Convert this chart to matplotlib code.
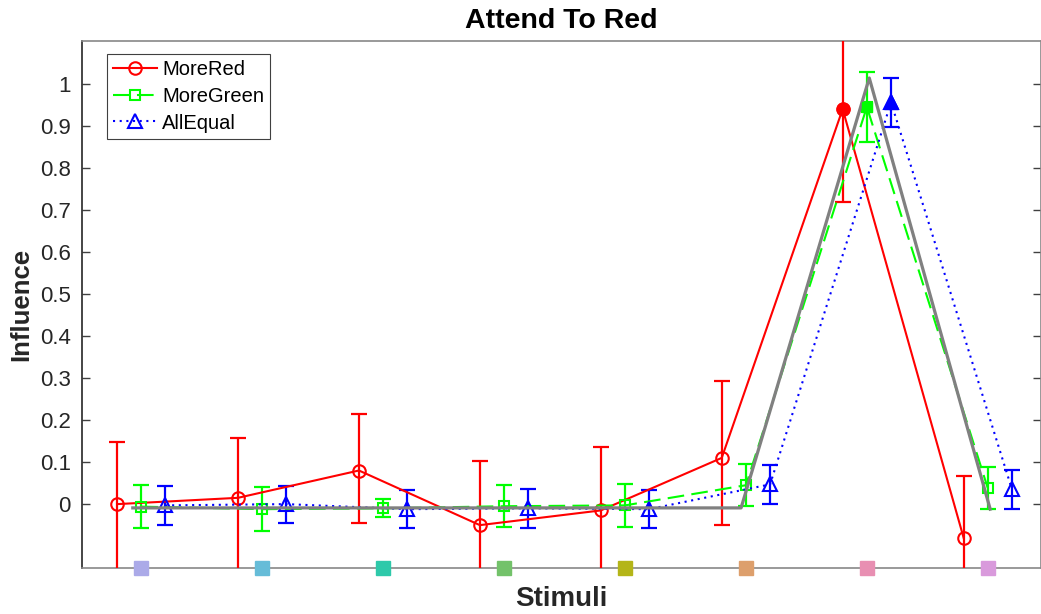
import matplotlib
matplotlib.use("Agg")
import matplotlib.pyplot as plt
import numpy as np

plt.rcParams['font.family'] = ['Liberation Sans', 'DejaVu Sans']

stimuli = [1, 2, 3, 4, 5, 6, 7, 8]
stim_colors = ['#abaae8', '#66bcd8', '#2ec9aa', '#73c26a', '#b4b518', '#dd9f6c', '#e88fb2', '#d99adc']

red_vals = [0.0, 0.015, 0.08, -0.05, -0.015, 0.11, 0.94, -0.08]
red_err_low = [0.2, 0.2, 0.125, 0.152, 0.15, 0.16, 0.22, 0.147]
red_err_high = [0.148, 0.142, 0.134, 0.152, 0.15, 0.183, 0.22, 0.147]
green_vals = [-0.006, -0.012, -0.01, -0.005, -0.003, 0.045, 0.945, 0.038]
green_err = [0.051, 0.052, 0.021, 0.05, 0.051, 0.05, 0.083, 0.05]
blue_vals = [-0.003, 0.0, -0.012, -0.01, -0.012, 0.047, 0.956, 0.035]
blue_err = [0.046, 0.044, 0.045, 0.047, 0.045, 0.047, 0.058, 0.047]

gray_x = [0.93, 1.93, 2.93, 3.93, 4.93, 5.96, 7.02, 8.02]
gray_y = [-0.009, -0.009, -0.009, -0.009, -0.009, -0.009, 1.014, -0.012]

attended = 6  # index of filled marker
yticks = [0, 0.1, 0.2, 0.3, 0.4, 0.5, 0.6, 0.7, 0.8, 0.9, 1]
ytick_labels = ['0', '0.1', '0.2', '0.3', '0.4', '0.5', '0.6', '0.7', '0.8', '0.9', '1']

fig = plt.figure(figsize=(10.41, 6.14), dpi=100)
ax = fig.add_axes([82/1041, 46/614, 959/1041, 527/614])

x = np.array(stimuli, dtype=float)
series = [
    ('MoreRed', red_vals, [red_err_low, red_err_high], '#ff0000', 'o', '-', -0.2, 9),
    ('MoreGreen', green_vals, green_err, '#00ff00', 's', (0, (8, 3.5)), 0.0, 7),
    ('AllEqual', blue_vals, blue_err, '#0000ff', '^', (0, (1, 2.2)), 0.2, 9.5),
]
handles = []
for name, vals, err, col, mk, ls, off, ms in series:
    xs = x + off
    ax.errorbar(xs, vals, yerr=err, fmt='none', ecolor=col, elinewidth=1.6,
                capsize=5.5, capthick=1.6, zorder=3)
    ln, = ax.plot(xs, vals, color=col, linestyle=ls, linewidth=1.5,
                  marker=mk, markersize=ms, markerfacecolor='none',
                  markeredgecolor=col, markeredgewidth=1.5, zorder=4, label=name)
    ax.plot([xs[attended]], [vals[attended]], linestyle='none', marker=mk,
            markersize=ms, markerfacecolor=col, markeredgecolor=col, zorder=5)
    handles.append(ln)

ax.plot(gray_x, gray_y, color='#808080', linewidth=2.3, zorder=4.5)

for xi, c in zip(stimuli, stim_colors):
    ax.plot([xi], [-0.152], marker='s', markersize=10.5, color=c,
            markeredgecolor=c, linestyle='none', clip_on=False, zorder=6)

ax.set_xlim(0.51, 8.44)
ax.set_ylim(-0.152, 1.102)
ax.set_xticks([])
ax.set_yticks(yticks)
ax.set_yticklabels(ytick_labels)
ax.tick_params(axis='y', direction='in', length=6, width=1, colors='#404040',
               labelcolor='#262626', labelsize=16, right=True, pad=8)
for name, s in ax.spines.items():
    s.set_linewidth(1.2)
    s.set_color('#262626' if name == 'left' else '#888888')

ax.set_title('Attend To Red', fontsize=20.5, fontweight='bold', pad=9)
ax.set_xlabel('Stimuli', fontsize=20, fontweight='bold', color='#262626', labelpad=13)
ax.set_ylabel('Influence', fontsize=18.5, fontweight='bold', color='#262626', labelpad=5)

leg = ax.legend(handles=handles, loc='upper left', bbox_to_anchor=(0.026, 0.975),
                fontsize=14.5, handlelength=2.2, handletextpad=0.25, borderpad=0.3,
                labelspacing=0.38, fancybox=False, framealpha=1, borderaxespad=0)
leg.get_frame().set_edgecolor('#404040')
leg.get_frame().set_linewidth(0.8)

fig.savefig('out.png', dpi=100)
